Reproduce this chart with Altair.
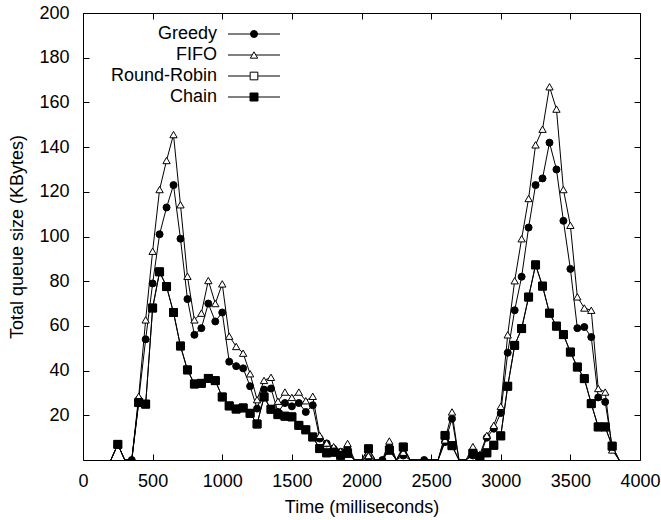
import altair as alt
import pandas as pd

# Sampling instants (ms) shared by all four schedulers
times = list(range(200, 3900, 50))

greedy_kb = [0, 7, 0, 0, 27, 54, 79, 101, 113, 123, 99, 72, 56, 59, 70, 62, 66, 44, 42, 41,
             33, 23, 31.5, 32, 21.5, 25.5, 24, 25.5, 21.5, 24.5, 9.6, 7.4, 5, 3.6, 5, 0, 0, 1, 0, 0,
             6, 0, 2, 0, 0, 0, 0, 0, 8, 18.5, 0, 0, 2, 1.5, 10, 14, 21, 48, 67, 82,
             104, 123, 126, 142, 130, 107, 85.5, 59, 59.5, 55, 28, 26, 6, 0]
fifo_kb = [0, 7, 0, 0, 28.5, 62.7, 93.4, 121, 134, 145.6, 114.2, 82.2, 62.7, 65.7, 80.3, 70, 78.8, 55.4, 50.8, 47.8,
           38.6, 27, 35.6, 37, 26.3, 30.4, 28, 30.4, 26.5, 28.5, 11, 7.6, 6, 4, 7.4, 0, 0, 2, 0, 0,
           8.5, 0, 3.5, 0, 0, 0, 0, 0, 9, 21.5, 0, 0, 6, 2.5, 11, 15.5, 24, 56, 80.2, 99,
           117, 141, 148, 167, 157, 121, 105, 73, 68, 67, 32, 30.4, 4.5, 0]
rr_kb = [0, 7, 0, 0, 25.7, 25, 68, 84.2, 77.6, 66, 51, 40.3, 34, 34.3, 36.5, 35.5, 28.2, 24.2, 22.8, 23.3,
         20.9, 16.1, 28.2, 22.7, 20.3, 19.6, 19.3, 15.5, 13.5, 10.3, 5.1, 3.2, 3.5, 2.1, 3, 0, 0, 5, 0, 0,
         4.4, 0, 5.8, 0, 0, 0, 0, 0, 11, 6.4, 0, 0, 3, 1.5, 3.2, 6.6, 10.8, 33, 51.3, 58.8,
         72.9, 87.3, 77.8, 65.7, 59.9, 56.1, 48.3, 41.6, 36.4, 25.2, 14.8, 14.8, 6.2, 0]
chain_kb = [0, 7, 0, 0, 25.7, 25, 68, 84.2, 77.6, 66, 51, 40.3, 34, 34.3, 36.5, 35.5, 28.2, 24.2, 22.8, 23.3,
            20.9, 16.1, 28.2, 22.7, 20.3, 19.6, 19.3, 15.5, 13.5, 10.3, 5.1, 3.2, 3.5, 2.1, 3, 0, 0, 5, 0, 0,
            4.4, 0, 5.8, 0, 0, 0, 0, 0, 11, 6.4, 0, 0, 3, 1.5, 3.2, 6.6, 10.8, 33, 51.3, 58.8,
            72.9, 87.3, 77.8, 65.7, 59.9, 56.1, 48.3, 41.6, 36.4, 25.2, 14.8, 14.8, 6.2, 0]

series_names = ["Greedy", "FIFO", "Round-Robin", "Chain"]
# empty-queue samples of the Greedy run that still carry a marker on the axis
greedy_zero_marks = [350, 2150, 2450]

x_ticks = [0, 500, 1000, 1500, 2000, 2500, 3000, 3500, 4000]
y_ticks = [20, 40, 60, 80, 100, 120, 140, 160, 180, 200]

rows = []
for name, vals in zip(series_names, [greedy_kb, fifo_kb, rr_kb, chain_kb]):
    for t, v in zip(times, vals):
        marked = v > 0 or (name == "Greedy" and t in greedy_zero_marks)
        rows.append({"t": t, "kb": v, "series": name, "marked": marked})
df = pd.DataFrame(rows)
key_df = pd.DataFrame({"series": series_names})

W, H = 557, 447
FONT = "Liberation Sans"
FS = 18

xs = alt.Scale(domain=[0, 4000], nice=False, zero=False)
ys = alt.Scale(domain=[0, 200], nice=False, zero=False)

marker_shapes = ["circle", "triangle-up", "square", "square"]
marker_fills = ["black", "white", "white", "black"]
marker_sizes = [49, 64, 64, 70]


def marker_encoding():
    return dict(
        shape=alt.Shape("series:N", scale=alt.Scale(domain=series_names, range=marker_shapes), legend=None),
        fill=alt.Fill("series:N", scale=alt.Scale(domain=series_names, range=marker_fills), legend=None),
        size=alt.Size("series:N", scale=alt.Scale(domain=series_names, range=marker_sizes), legend=None),
    )


lines = alt.Chart(df).mark_line(color="black", strokeWidth=1, clip=True).encode(
    x=alt.X("t:Q", scale=xs, axis=alt.Axis(
        values=x_ticks, title="Time (milliseconds)", ticks=False, domain=False,
        labelPadding=12, titlePadding=8, format="d", labelFlush=False)),
    y=alt.Y("kb:Q", scale=ys, axis=alt.Axis(
        values=y_ticks, title="Total queue size (KBytes)", ticks=False, domain=False,
        labelPadding=14, titlePadding=12, format="d", labelFlush=False)),
    detail="series:N",
)

# markers; their axes only contribute the inward ticks on the bottom and left edges
points = alt.Chart(df).transform_filter("datum.marked").mark_point(
    filled=True, stroke="black", strokeWidth=1, opacity=1, clip=True
).encode(
    x=alt.X("t:Q", scale=xs, axis=alt.Axis(
        orient="top", offset=-H, values=x_ticks, labels=False, domain=False,
        ticks=True, tickSize=6, tickColor="black", title=None)),
    y=alt.Y("kb:Q", scale=ys, axis=alt.Axis(
        orient="right", offset=-W, values=y_ticks, labels=False, domain=False,
        ticks=True, tickSize=6, tickColor="black", title=None)),
    order=alt.Order("t:Q"),
    **marker_encoding(),
)

# mirrored inward ticks on the top and right edges
mirror_ticks = alt.Chart(df).transform_filter("false").mark_point().encode(
    x=alt.X("t:Q", scale=xs, axis=alt.Axis(
        orient="bottom", offset=-H, values=x_ticks, labels=False, domain=False,
        ticks=True, tickSize=6, tickColor="black", title=None)),
    y=alt.Y("kb:Q", scale=ys, axis=alt.Axis(
        orient="left", offset=-W, values=y_ticks, labels=False, domain=False,
        ticks=True, tickSize=6, tickColor="black", title=None)),
)

# key in the upper-left corner: label, line sample, marker
key_rows = alt.Y("series:N", scale=alt.Scale(type="point", domain=series_names, range=[21, 84], padding=0),
                 axis=None)
key_lines = alt.Chart(key_df).mark_rule(color="black", strokeWidth=1).encode(
    x=alt.value(145), x2=alt.value(197), y=key_rows,
)
key_marks = alt.Chart(key_df).mark_point(
    filled=True, stroke="black", strokeWidth=1, opacity=1
).encode(
    x=alt.value(171), y=key_rows, **marker_encoding(),
)
key_text = alt.Chart(key_df).mark_text(
    align="right", baseline="middle", font=FONT, fontSize=FS, color="black"
).encode(
    x=alt.value(134), y=key_rows, text="series:N",
)

chart = alt.layer(lines, points, mirror_ticks, key_lines, key_marks, key_text).resolve_scale(
    x="independent", y="independent", shape="independent", fill="independent", size="independent"
).properties(
    width=W, height=H,
    autosize=alt.AutoSizeParams(type="none"),
    padding={"left": 83, "top": 13, "right": 21, "bottom": 60},
).configure_view(
    stroke="black", strokeWidth=1
).configure_axis(
    grid=False, labelFont=FONT, labelFontSize=FS, labelColor="black",
    titleFont=FONT, titleFontSize=FS, titleFontWeight="normal", titleColor="black",
)

chart.save("out.html", embed_options={"renderer": "svg", "actions": False})
